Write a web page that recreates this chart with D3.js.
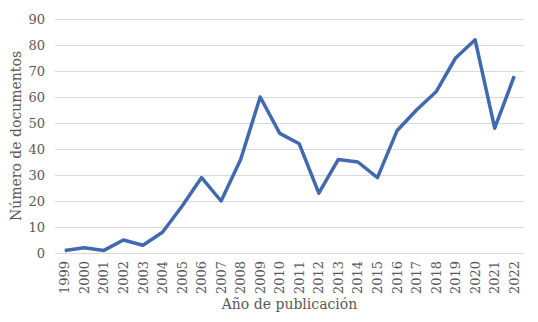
<!DOCTYPE html>
<html>
<head>
<meta charset="utf-8">
<script src="https://cdn.jsdelivr.net/npm/d3@7"></script>
<style>
  body { margin: 0; background: #fff; }
  svg text { font-family: "DejaVu Serif", "Liberation Serif", serif; fill: #595959; }
</style>
</head>
<body>
<svg id="chart" width="538" height="322"></svg>
<script>
const years = ['1999', '2000', '2001', '2002', '2003', '2004', '2005', '2006', '2007', '2008', '2009', '2010',
    '2011', '2012', '2013', '2014', '2015', '2016', '2017', '2018', '2019', '2020', '2021', '2022'];
const docs = [1, 2, 1, 5, 3, 8, 18, 29, 20, 36, 60, 46, 42, 23, 36, 35, 29, 47, 55, 62, 75, 82, 48, 68];
const yTicks = [0, 10, 20, 30, 40, 50, 60, 70, 80, 90];

const svg = d3.select('#chart');
const margin = { top: 19, right: 14, bottom: 69, left: 55 };
const width = 538 - margin.left - margin.right;
const height = 322 - margin.top - margin.bottom;

const g = svg.append('g').attr('transform', `translate(${margin.left},${margin.top})`);

const x = d3.scaleBand().domain(years).range([0, width]);
const y = d3.scaleLinear().domain([0, 90]).range([height, 0]);

// gridlines
g.append('g')
    .selectAll('line')
    .data(yTicks)
    .enter()
    .append('line')
    .attr('x1', 0)
    .attr('x2', width)
    .attr('y1', (d) => Math.round(y(d)) + 0.5)
    .attr('y2', (d) => Math.round(y(d)) + 0.5)
    .attr('stroke', '#d9d9d9')
    .attr('stroke-width', 1);

const yAxis = g.append('g')
    .call(d3.axisLeft(y).tickValues(yTicks).tickSize(0).tickPadding(10));
yAxis.select('.domain').remove();
yAxis.selectAll('text').style('font-size', '13px').attr('fill', '#595959');

const xAxis = g.append('g')
    .attr('transform', `translate(0,${height})`)
    .call(d3.axisBottom(x).tickSize(0).tickPadding(8));
xAxis.select('.domain').remove();
xAxis.selectAll('text')
    .style('font-size', '13px')
    .attr('fill', '#595959')
    .attr('transform', 'rotate(-90)')
    .attr('dy', '0.35em')
    .attr('x', -8)
    .attr('y', 0)
    .style('text-anchor', 'end');

const line = d3.line()
    .x((d, i) => x(years[i]) + x.bandwidth() / 2)
    .y((d) => y(d));

g.append('path')
    .datum(docs)
    .attr('fill', 'none')
    .attr('stroke', '#4169b0')
    .attr('stroke-width', 3.5)
    .attr('stroke-linejoin', 'round')
    .attr('d', line);

svg.append('text')
    .attr('x', margin.left + width / 2)
    .attr('y', 309)
    .attr('text-anchor', 'middle')
    .style('font-size', '14px')
    .text('Año de publicación');

svg.append('text')
    .attr('transform', `translate(21,${margin.top + height / 2}) rotate(-90)`)
    .attr('text-anchor', 'middle')
    .style('font-size', '14px')
    .text('Número de documentos');
</script>
</body>
</html>
